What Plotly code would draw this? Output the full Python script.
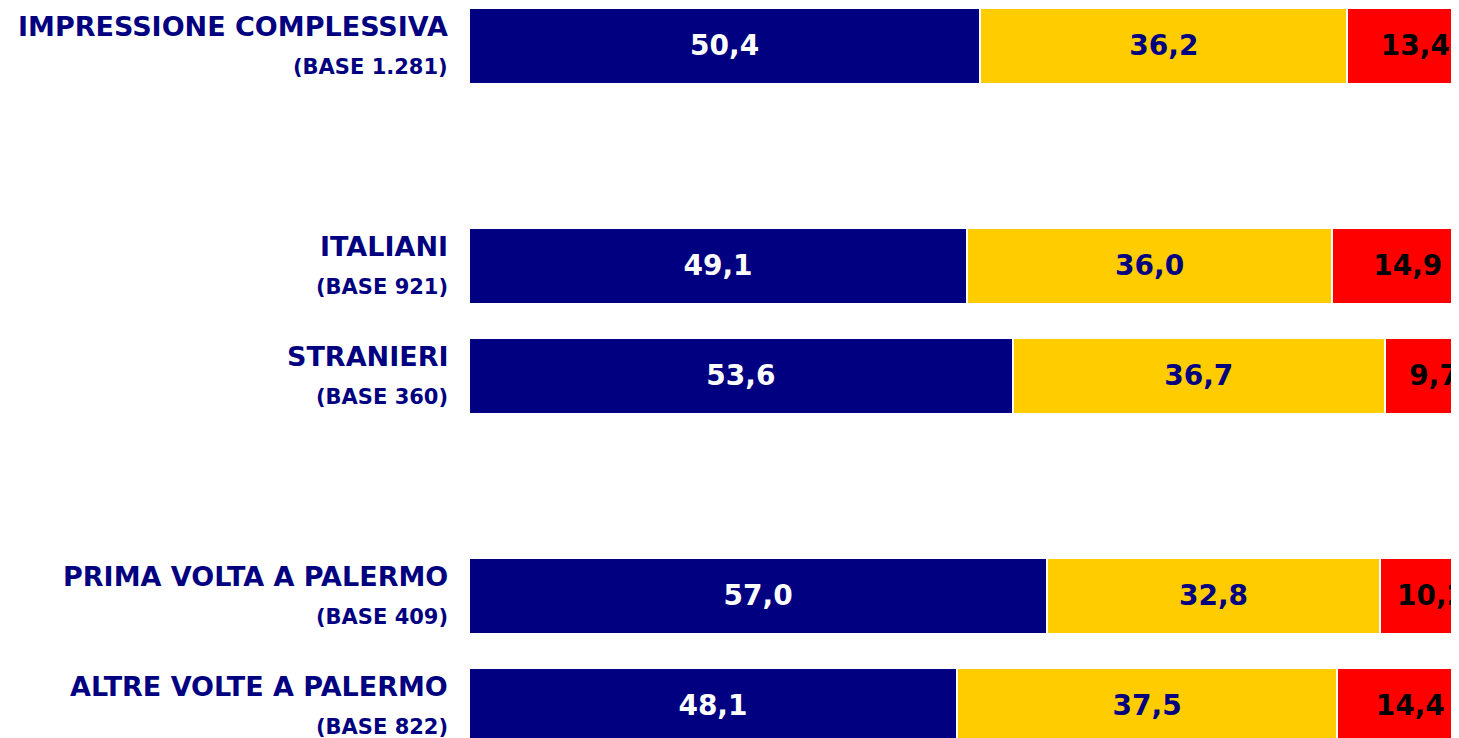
import plotly.graph_objects as go

categories = ["IMPRESSIONE COMPLESSIVA", "ITALIANI", "STRANIERI",
              "PRIMA VOLTA A PALERMO", "ALTRE VOLTE A PALERMO"]
bases = ["(BASE 1.281)", "(BASE 921)", "(BASE 360)", "(BASE 409)", "(BASE 822)"]
slots = [0, 2, 3, 5, 6]
positivo = [50.4, 49.1, 53.6, 57.0, 48.1]
medio = [36.2, 36.0, 36.7, 32.8, 37.5]
negativo = [13.4, 14.9, 9.7, 10.2, 14.4]

NAVY = "#000080"
series = [
    ("positivo", positivo, NAVY, "white"),
    ("medio", medio, "#FFCC00", NAVY),
    ("negativo", negativo, "#FF0000", "black"),
]

fig = go.Figure()
for name, vals, col, tcol in series:
    fig.add_trace(go.Bar(
        y=slots, x=vals, orientation="h", name=name,
        marker=dict(color=col, line=dict(color="white", width=2)),
        width=0.69,
        texttemplate="%{x:.1f}", textposition="inside",
        insidetextanchor="middle",
        textfont=dict(family="DejaVu Sans", size=28, color=tcol, weight="bold"),
        constraintext="none",
        cliponaxis=True,
    ))

annotations = []
for c, b, s in zip(categories, bases, slots):
    annotations.append(dict(
        x=0, xref="paper", y=s, yref="y", text="<b>%s</b>" % c,
        xanchor="right", yanchor="middle", xshift=-19, yshift=19,
        showarrow=False, font=dict(family="DejaVu Sans", size=27, color=NAVY)))
    annotations.append(dict(
        x=0, xref="paper", y=s, yref="y", text="<b>%s</b>" % b,
        xanchor="right", yanchor="middle", xshift=-19, yshift=-21,
        showarrow=False, font=dict(family="DejaVu Sans", size=21, color=NAVY)))

fig.update_layout(
    barmode="stack", width=1451, height=730,
    margin=dict(l=461, r=0, t=0, b=0),
    paper_bgcolor="white", plot_bgcolor="white",
    showlegend=False, separators=",.",
    annotations=annotations,
    xaxis=dict(range=[0, 97.6], visible=False, fixedrange=True),
    yaxis=dict(range=[6.291, -0.345], visible=False, fixedrange=True),
)
fig.write_html("out.html")
